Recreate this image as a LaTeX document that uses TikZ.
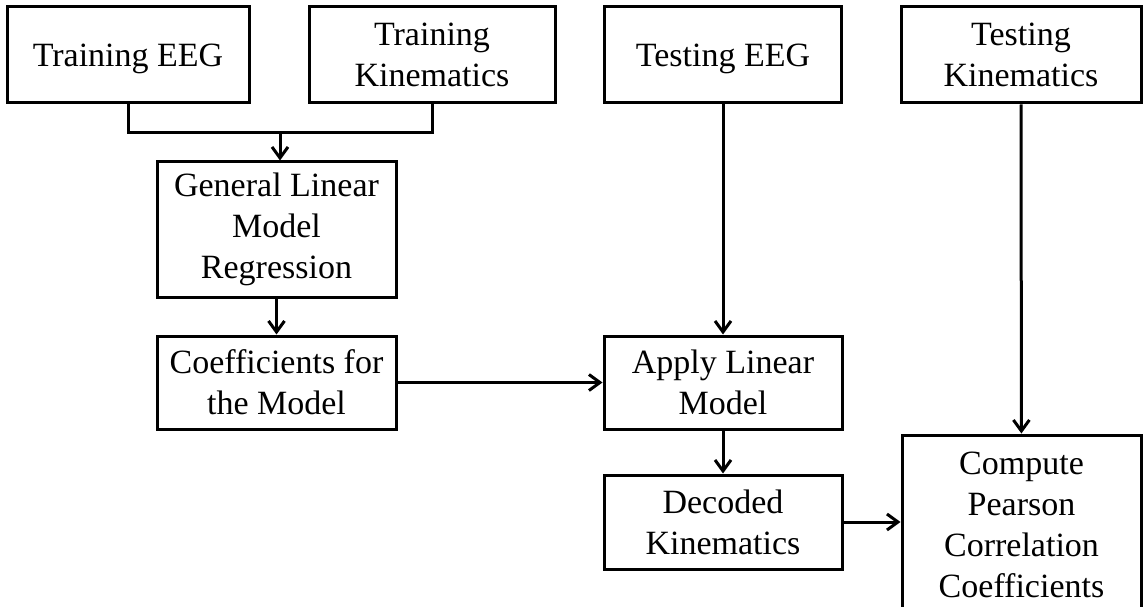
\documentclass[tikz,border=0pt]{standalone}
\usepackage{fontspec}
\setmainfont{Liberation Serif}
\usetikzlibrary{arrows.meta}

\begin{document}
\begin{tikzpicture}[x=1pt, y=-1pt,
  box/.style={draw, line width=3pt, rectangle, align=center, inner sep=0pt,
    font=\fontsize{34}{41}\selectfont},
  oneline/.style={text depth=0pt},
  link/.style={line width=3pt},
  flow/.style={link, -{Straight Barb[length=11pt,width=16pt]}}]
  \useasboundingbox (0,0) rectangle (1144,607);
  \clip (0,0) rectangle (1144,607);

  % inputs along the top row
  \node[box, oneline, minimum width=242pt, minimum height=96pt] (trainEEG) at (128,55) {Training EEG};
  \node[box, minimum width=246pt, minimum height=96pt] (trainKin) at (432,55) {Training\\Kinematics};
  \node[box, oneline, minimum width=237pt, minimum height=96pt] (testEEG) at (723,55) {Testing EEG};
  \node[box, minimum width=240pt, minimum height=96pt] (testKin) at (1021,55) {Testing\\Kinematics};

  % training branch
  \node[box, minimum width=239pt, minimum height=135pt] (glm) at (276.5,229.5) {General Linear\\Model\\Regression};
  \node[box, minimum width=239pt, minimum height=93pt] (coef) at (276.5,382.5) {Coefficients for\\the Model};

  % testing branch
  \node[box, minimum width=238pt, minimum height=93pt] (apply) at (723,382.5) {Apply Linear\\Model};
  \node[box, minimum width=238pt, minimum height=94pt] (decoded) at (723,522) {Decoded\\Kinematics};
  \node[box, minimum width=239pt, minimum height=180pt] (pearson) at (1021.5,525) {Compute\\Pearson\\Correlation\\Coefficients};

  % connectors
  \coordinate (merge) at (280,133);
  \draw[link] (trainEEG.south) |- (merge) -| (trainKin.south);
  \draw[flow] (merge) -- (merge |- glm.north);
  \draw[flow] (glm) -- (coef);
  \draw[flow] (coef) -- (apply);
  \draw[flow] (testEEG) -- (apply);
  \draw[flow] (apply) -- (decoded);
  \draw[flow] (decoded.east) -- (decoded.east -| pearson.west);
  \draw[flow] (testKin) -- (pearson);
\end{tikzpicture}
\end{document}
